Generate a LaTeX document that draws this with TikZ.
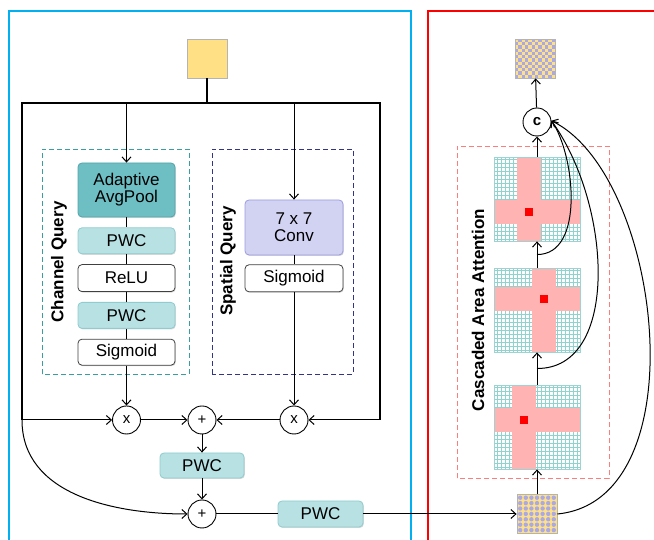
\documentclass[tikz,border=0pt]{standalone}
\usepackage{fontspec}
\setmainfont{Liberation Sans}
\usetikzlibrary{arrows.meta,positioning,shadows}

\definecolor{framecyan}{HTML}{00B0F0}
\definecolor{framered}{HTML}{FF0000}
\definecolor{inyellow}{HTML}{FFE085}
\definecolor{sqedge}{HTML}{B4B4B4}
\definecolor{lav}{HTML}{A9A9E8}
\definecolor{adaptfill}{HTML}{6EBFC4}
\definecolor{adaptdraw}{HTML}{52A5AA}
\definecolor{pwcfill}{HTML}{B8E1E3}
\definecolor{pwcdraw}{HTML}{8FCBCF}
\definecolor{actdraw}{HTML}{404040}
\definecolor{convfill}{HTML}{D2D2F3}
\definecolor{convdraw}{HTML}{9C9CE0}
\definecolor{chdash}{HTML}{3A9EA0}
\definecolor{spdash}{HTML}{333388}
\definecolor{pinkdash}{HTML}{FF7C7C}
\definecolor{crosspink}{HTML}{FFB3B3}
\definecolor{gridteal}{HTML}{8FD3CF}
\definecolor{mapedge}{HTML}{9ED3D3}

\newcommand{\boxfont}{\fontsize{17}{19}\selectfont}
\newcommand{\opfont}{\fontsize{15}{17}\selectfont}

\begin{document}
\begin{tikzpicture}[x=1pt,y=1pt,>={Straight Barb[length=5pt,width=9pt]},
	conn/.style={->,line width=1pt},
	link/.style={line width=1pt},
	bus/.style={line width=1.9pt},
	op node/.style={circle,draw,fill=white,line width=0.9pt,minimum size=28pt,inner sep=0pt,font=\opfont},
	box/.style={rounded corners=4pt,inner sep=0pt,line width=0.8pt,minimum width=97pt,minimum height=26pt,
	  align=center,font=\boxfont,drop shadow={shadow xshift=0.8pt,shadow yshift=-1pt,opacity=0.3}},
	pwc box/.style={box,fill=pwcfill,draw=pwcdraw},
	act box/.style={box,fill=white,draw=actdraw},
	feat/.style={rectangle,inner sep=0pt,minimum width=40pt,minimum height=39pt,draw=sqedge,line width=0.8pt},
	checker/.style={feat,fill=inyellow,path picture={
	  \foreach \i in {0,2,...,10}{\foreach \j in {0,2,...,10}{
	    \fill[lav] ([shift={(\i*3.34,\j*3.25)}]path picture bounding box.south west) rectangle ++(3.34,3.25);
	    \fill[lav] ([shift={(\i*3.34+3.34,\j*3.25+3.25)}]path picture bounding box.south west) rectangle ++(3.34,3.25);}}}},
	dotted feat/.style={feat,fill=inyellow,path picture={
	  \foreach \i in {0,...,6}{\foreach \j in {0,...,6}{
	    \fill[lav] ([shift={(3.2+\i*5.6,-3.2-\j*5.4)}]path picture bounding box.north west) circle (2.2);}}}},
	query/.style={line width=0.9pt,dash pattern=on 5pt off 3pt},
	attmap/.style n args={2}{rectangle,inner sep=0pt,minimum width=86pt,minimum height=84pt,fill=white,
	  draw=mapedge,line width=0.8pt,drop shadow={shadow xshift=0.8pt,shadow yshift=-1.2pt,opacity=0.3},
	  path picture={
	    \draw[gridteal,line width=0.4pt] (path picture bounding box.south west) grid[step=4]
	      (path picture bounding box.north east);
	    \fill[crosspink] ([xshift=#1]path picture bounding box.north west) rectangle ++(24,-84);
	    \fill[crosspink] ([yshift=-#2]path picture bounding box.north west) rectangle ++(86,-24);
	    \fill[red] ([shift={(#1+8,-#2-8)}]path picture bounding box.north west) rectangle ++(8,-8);
	  }}
	]

	\useasboundingbox (0,0) rectangle (654,540);

	% the two frames
	\draw[framecyan,line width=2pt] (9,-5) rectangle (411,529);
	\draw[framered,line width=1.6pt] (428,-5) rectangle (662,529);

	% dashed query groups
	\draw[chdash,query] (42,166) rectangle (189,391);
	\draw[spdash,query] (212,166) rectangle (353,391);
	\draw[pinkdash,query] (457,62) rectangle (609,394);

	\node[rotate=90,font=\bfseries\boxfont] (chq) at (59,278) {Channel Query};
	\node[rotate=90,font=\bfseries\boxfont] (spq) at (228,279) {Spatial Query};
	\node[rotate=90,font=\bfseries\boxfont] (caa) at (478,230) {Cascaded Area Attention};

	% input feature
	\node[feat,fill=inyellow] (in) at (207,481.5) {};
	\coordinate (top) at (207,437);
	\coordinate (tl) at (22,437);
	\coordinate (tr) at (380,437);
	\coordinate (bl) at (22,120);
	\coordinate (br) at (380,120);

	% channel query branch
	\node[box,fill=adaptfill,draw=adaptdraw,minimum height=54pt] (adapt) at (126.5,350) {Adaptive\\[-2pt]AvgPool};
	\node[pwc box] (pwc1) [below=10pt of adapt] {PWC};
	\node[act box,minimum height=27pt] (relu) [below=10pt of pwc1] {ReLU};
	\node[pwc box] (pwc2) [below=10pt of relu] {PWC};
	\node[act box] (sig1) [below=10pt of pwc2] {Sigmoid};

	% spatial query branch
	\node[box,fill=convfill,draw=convdraw,minimum width=98pt,minimum height=55pt] (conv) at (294,312.5) {7 x 7\\[-2pt]Conv};
	\node[act box,minimum width=98pt,minimum height=27pt] (sig2) [below=9pt of conv] {Sigmoid};

	% fusion
	\node[op node] (mulc) at (126.5,120) {x};
	\node[op node] (add) at (202,120) {+};
	\node[op node] (muls) at (294,120) {x};
	\node[pwc box,minimum width=84pt,minimum height=25pt] (pwcm) at (202,74.5) {PWC};
	\node[op node] (addb) at (202,26) {+};
	\node[pwc box,minimum width=85pt] (pwcb) at (320.5,26) {PWC};

	% cascaded area attention
	\node[dotted feat] (inq) at (537,26) {};
	\node[attmap={18}{23}] (g1) at (537,113) {};
	\node[attmap={38}{19}] (g2) at (537,230) {};
	\node[attmap={23}{43}] (g3) at (537,341) {};
	\node[op node,font=\bfseries\opfont] (cat) at (537,418) {c};
	\node[checker] (outq) at (535,481.5) {};

	% connectors
	\draw[bus] (in) -- (top);
	\draw[bus] (bl) -- (tl) -- (tr) -- (br);
	\draw[conn] (adapt |- tl) -- (adapt);
	\draw[conn] (conv |- tr) -- (conv);
	\draw[link] (adapt) -- (pwc1) -- (relu) -- (pwc2) -- (sig1);
	\draw[link] (conv) -- (sig2);
	\draw[conn] (sig1) -- (mulc);
	\draw[conn] (sig2) -- (muls);
	\draw[conn] (bl) -- (mulc);
	\draw[conn] (br) -- (muls);
	\draw[conn] (mulc) -- (add);
	\draw[conn] (muls) -- (add);
	\draw[conn] (add) -- (pwcm);
	\draw[conn] (pwcm) -- (addb);
	\draw[conn] (bl) to[out=-90,in=180] (addb);
	\draw[link] (addb) -- (pwcb);
	\draw[conn] (pwcb) -- (inq);

	\draw[conn] (inq) -- (g1);
	\draw[conn] (g1) -- coordinate (j1) (g2);
	\draw[conn] (g2) -- coordinate (j2) (g3);
	\draw[conn] (g3) -- (cat);
	\draw[conn] (cat) -- (outq);
	\draw[conn] (j2) .. controls (585,285) and (575,385) .. (cat.5);
	\draw[conn] (j1) .. controls (620,171) and (612,335) .. (cat.5);
	\draw[conn] (inq.east) .. controls (700,40) and (662,365) .. (cat.5);

\end{tikzpicture}
\end{document}
